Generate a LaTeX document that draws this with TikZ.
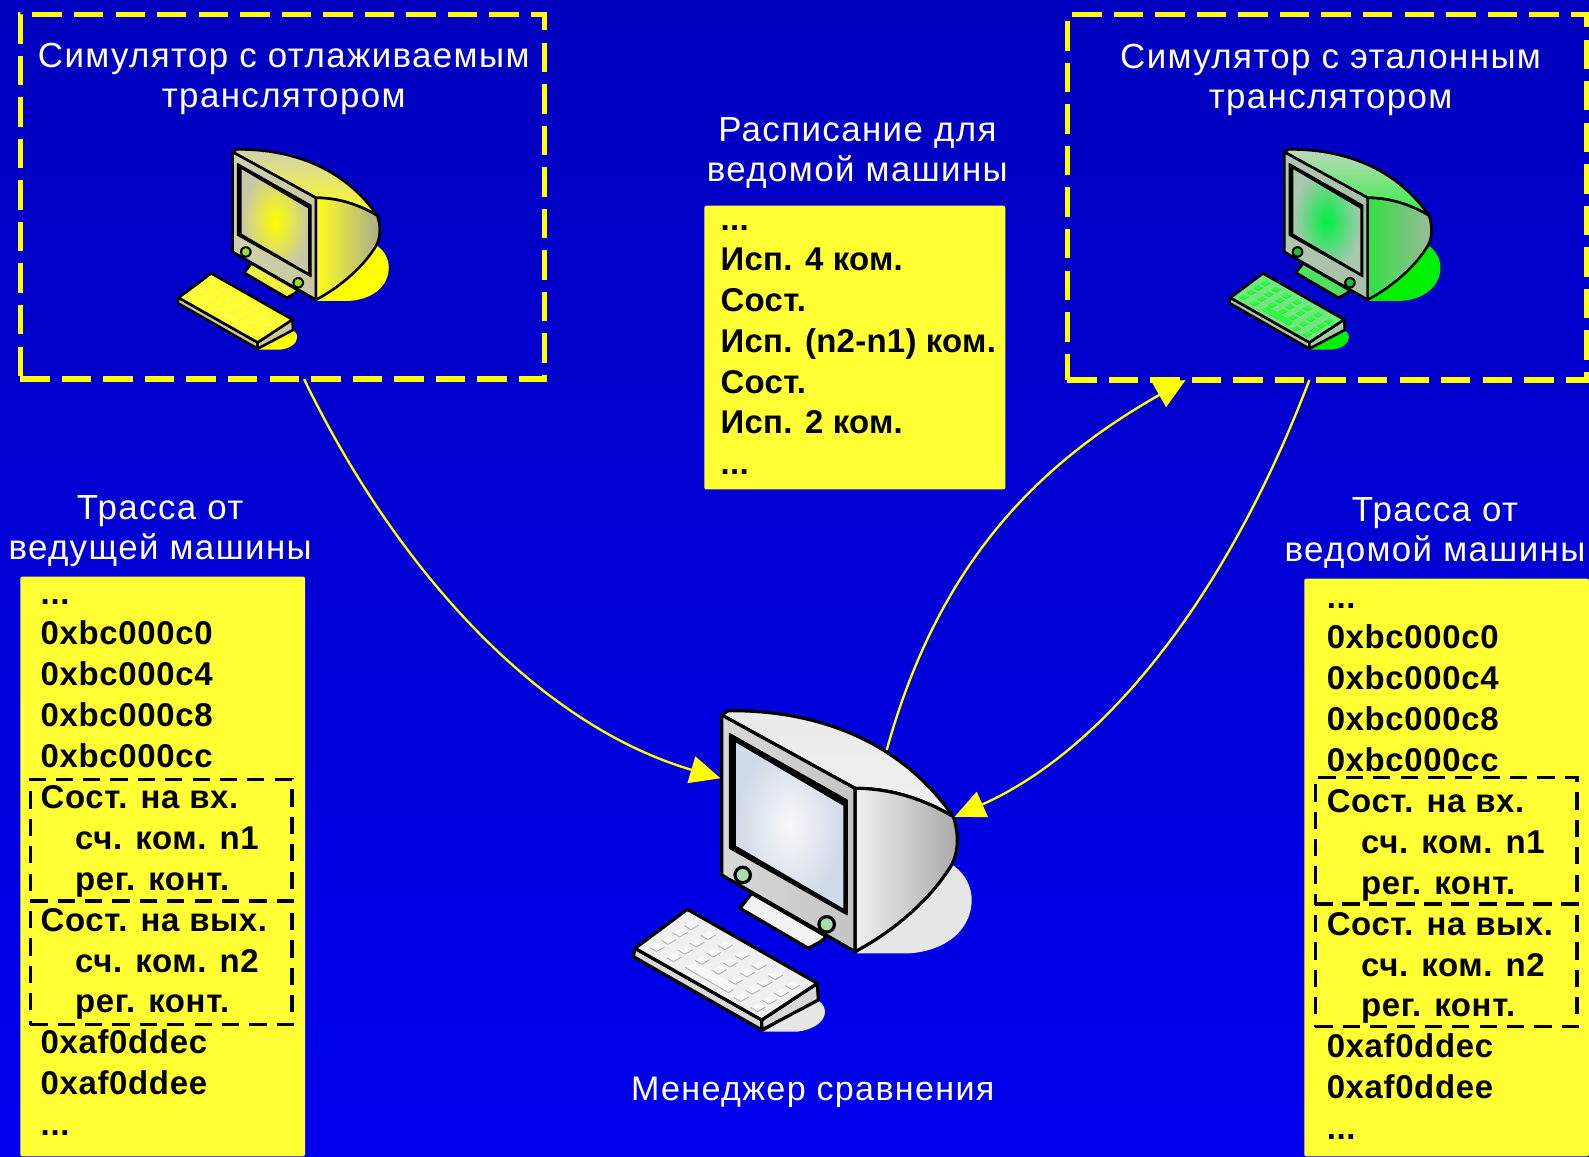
\documentclass[tikz,border=0pt]{standalone}
\usepackage{fontspec}
\setmainfont{Liberation Sans}
\usetikzlibrary{arrows.meta,calc}
\definecolor{boxyellow}{HTML}{FFFF33}
\definecolor{arrowyellow}{HTML}{FFFF00}
\newcommand{\drawcomputer}[3]{%
\begin{scope}[shift={(#1,#2)},scale=#3,line join=round]
 \def\lw{1.5pt+#3*5pt}
 \fill[cshadow] (770,820) -- (930,820) .. controls (1050,810) and (1115,740) .. (1115,660) .. controls (1115,610) and (1085,570) .. (1050,550) -- cycle;
 \fill[cshadow] (490,1055) -- (590,1055) .. controls (640,1050) and (675,1025) .. (675,995) .. controls (675,975) and (660,965) .. (650,960) -- cycle;
 \draw[line width=\lw,fill=cstand] (420,685) -- (455,640) -- (680,770) -- (662,785) -- (625,805) -- cycle;
 \draw[line width=\lw,top color=ctopa,bottom color=ctopb] (365,105) -- (385,92) .. controls (650,90) and (900,180) .. (1060,410) .. controls (950,345) and (850,325) .. (765,325) -- cycle;
 \draw[line width=\lw,left color=csidea,middle color=csideb,right color=csidec] (765,325) .. controls (850,325) and (950,345) .. (1060,410) .. controls (1080,470) and (1075,530) .. (1045,570) .. controls (980,670) and (870,760) .. (765,815) -- cycle;
 \draw[line width=\lw,left color=cfronta,right color=cfrontb] (365,105) -- (765,325) -- (765,815) -- (365,585) -- cycle;
 \filldraw[black,line width=1pt] (388,160) -- (742,360) -- (742,705) -- (388,505) -- cycle;
 \fill[inner color=cscreena,outer color=cscreenb] (408,188) -- (730,378) -- (730,685) -- (408,497) -- cycle;
 \fill[black] (428,585) circle (28);
 \fill[cbutton] (428,585) circle (18);
 \fill[black] (680,733) circle (28);
 \fill[cbutton] (680,733) circle (18);
 \draw[line width=\lw,fill=cside] (105,805) -- (485,1020) -- (485,1050) -- (100,830) -- cycle;
 \draw[line width=\lw,fill=cside] (485,1020) -- (652,910) -- (655,960) -- (485,1050) -- cycle;
 \draw[line width=\lw,fill=ckbd] (262,688) -- (652,910) -- (485,1020) -- (105,805) -- cycle;
 \foreach \i in {0,...,6}{\foreach \j in {0,...,3}{
   \pgfmathtruncatemacro{\skipk}{(\j==3 && \i>=2 && \i<=4) ? 1 : 0}
   \ifnum\skipk=0
   \begin{scope}[shift={(275+50.5*\i-34.5*\j,735+30*\i+22*\j)}]
     \fill[ckey] (0,-12) -- (22,0) -- (-2,14) -- (-22,2) -- cycle;
     \draw[ckeyline,line width=#3*3pt] (-22,2) -- (-2,14) -- (22,0);
   \end{scope}
   \fi
 }}
 \fill[ckey] (262,860) -- (285,848) -- (410,920) -- (385,935) -- cycle;
 \draw[ckeyline,line width=#3*3pt] (255,862) -- (385,938) -- (400,928);
\end{scope}}
\tikzset{
 dashfr/.style={draw=arrowyellow,line width=5pt,dash pattern=on 29pt off 12pt,minimum width=#1,inner sep=0pt,outer sep=0pt,anchor=north west},
 dashin/.style={draw=black,line width=3.5pt,dash pattern=on 17pt off 10pt,minimum width=258pt,inner sep=0pt,outer sep=0pt,anchor=north west},
 ybox/.style={fill=boxyellow,rounded corners=2pt,inner sep=0pt,outer sep=0pt,anchor=north west},
 title/.style={text=white,align=center,inner sep=0pt,font=\fontsize{34.4}{40}\selectfont\addfontfeature{LetterSpace=4}},
 block/.style={text=black,align=left,inner sep=0pt,anchor=north west,font=\fontsize{32.5}{40.35}\selectfont\bfseries\addfontfeature{LetterSpace=2}},
 conn/.style={draw=arrowyellow,line width=2.3pt,-{Triangle[length=30pt,width=27pt,fill=arrowyellow]}},
}
\begin{document}
\begin{tikzpicture}[x=1pt,y=-1pt]
\useasboundingbox (0,0) rectangle (1568,1141);
\fill[top color={rgb,255:red,0;green,0;blue,190},bottom color={rgb,255:red,0;green,0;blue,238}] (0,0) rectangle (1568,1141);

% computers
\begin{scope}
 \definecolor{cshadow}{HTML}{FFFF00}\definecolor{cstand}{HTML}{F0F040}
 \definecolor{ctopa}{HTML}{D0D0B0}\definecolor{ctopb}{HTML}{FFFF20}
 \definecolor{csidea}{HTML}{FFFF20}\definecolor{csideb}{HTML}{D8D860}\definecolor{csidec}{HTML}{A8A890}
 \definecolor{cfronta}{HTML}{D0D0B0}\definecolor{cfrontb}{HTML}{C8C8A0}
 \definecolor{cscreena}{HTML}{FFFF00}\definecolor{cscreenb}{HTML}{C8C8A8}
 \definecolor{cbutton}{HTML}{A0E020}\definecolor{cside}{HTML}{C8C8A0}
 \definecolor{ckbd}{HTML}{FFFF30}\definecolor{ckey}{HTML}{FFFF40}\definecolor{ckeyline}{HTML}{F0F060}
 \drawcomputer{154.7}{128.5}{0.2053}
\end{scope}
\begin{scope}
 \definecolor{cshadow}{HTML}{00F000}\definecolor{cstand}{HTML}{50E060}
 \definecolor{ctopa}{HTML}{C0D8C0}\definecolor{ctopb}{HTML}{30F040}
 \definecolor{csidea}{HTML}{30E040}\definecolor{csideb}{HTML}{60D870}\definecolor{csidec}{HTML}{A0B8A0}
 \definecolor{cfronta}{HTML}{B0C8B0}\definecolor{cfrontb}{HTML}{A8C0A8}
 \definecolor{cscreena}{HTML}{00F040}\definecolor{cscreenb}{HTML}{A8C8B0}
 \definecolor{cbutton}{HTML}{20C030}\definecolor{cside}{HTML}{A8C8A8}
 \definecolor{ckbd}{HTML}{70E880}\definecolor{ckey}{HTML}{30F840}\definecolor{ckeyline}{HTML}{30D840}
 \drawcomputer{1192.5}{128.5}{0.2053}
\end{scope}
\begin{scope}
 \definecolor{cshadow}{HTML}{E6E6E6}\definecolor{cstand}{HTML}{F2F2F2}
 \definecolor{ctopa}{HTML}{EAEAEA}\definecolor{ctopb}{HTML}{F0F0F0}
 \definecolor{csidea}{HTML}{F0F0F0}\definecolor{csideb}{HTML}{D0D0D0}\definecolor{csidec}{HTML}{A8A8A8}
 \definecolor{cfronta}{HTML}{D8D8D8}\definecolor{cfrontb}{HTML}{C4C4C4}
 \definecolor{cscreena}{HTML}{F8F8FA}\definecolor{cscreenb}{HTML}{D0DAE8}
 \definecolor{cbutton}{HTML}{A8DCA8}\definecolor{cside}{HTML}{D8D8D8}
 \definecolor{ckbd}{HTML}{F0F0F0}\definecolor{ckey}{HTML}{F8F8F8}\definecolor{ckeyline}{HTML}{B8B8B8}
 \drawcomputer{592.1}{671}{0.3289}
\end{scope}

% frames
\node[dashfr=517pt,minimum height=360pt] (simL) at (20,14) {};
\node[dashfr=513pt,minimum height=361pt] (simR) at (1053,14) {};

% yellow sheets
\node[ybox,minimum width=297pt,minimum height=280pt] (sched) at (695,203) {};
\node[ybox,minimum width=281pt,minimum height=572pt] (traceL) at (20,569) {};
\node[ybox,minimum width=281pt,minimum height=570pt] (traceR) at (1287,571) {};

% sheet text
\node[block,font=\fontsize{32.5}{40.2}\selectfont\bfseries\addfontfeature{LetterSpace=0.8}] (schedT) at (711,222) {...\\Исп. 4 ком.\\Сост.\\Исп. (n2-n1) ком.\\Сост.\\Исп. 2 ком.\\...};
\node[block] (traceLT) at (40,591) {...\\0xbc000c0\\0xbc000c4\\0xbc000c8\\0xbc000cc\\Сост. на вх.\\\hspace*{34pt}сч. ком. n1\\\hspace*{34pt}рег. конт.\\Сост. на вых.\\\hspace*{34pt}сч. ком. n2\\\hspace*{34pt}рег. конт.\\0xaf0ddec\\0xaf0ddee\\...};
\node[block] (traceRT) at (1309,595) {...\\0xbc000c0\\0xbc000c4\\0xbc000c8\\0xbc000cc\\Сост. на вх.\\\hspace*{34pt}сч. ком. n1\\\hspace*{34pt}рег. конт.\\Сост. на вых.\\\hspace*{34pt}сч. ком. n2\\\hspace*{34pt}рег. конт.\\0xaf0ddec\\0xaf0ddee\\...};

% inner dashed frames
\node[dashin,minimum height=120pt] (inL) at (30,769) {};
\node[dashin,minimum height=122pt] (outL) at (30,889) {};
\node[dashin,minimum height=125pt] (inR) at (1298,767) {};
\node[dashin,minimum height=121pt] (outR) at (1298,892) {};

% titles
\node[title] (tL) at (280,78) {Симулятор с отлаживаемым\\транслятором};
\node[title] (tR) at (1313,79) {Симулятор с эталонным\\транслятором};
\node[title] (tS) at (846,151) {Расписание для\\ведомой машины};
\node[title] (tTL) at (158,524) {Трасса от\\ведущей машины};
\node[title] (tTR) at (1416,526) {Трасса от\\ведомой машины};
\node[title,font=\fontsize{33.6}{40}\selectfont\addfontfeature{LetterSpace=4}] (tM) at (802,1078) {Менеджер сравнения};

% connectors
\coordinate (bigL) at (711,768);
\coordinate (bigT) at (875,740);
\coordinate (bigR) at (942,806);
\draw[conn] ($(simL.south west)!0.5416!(simL.south east)$) .. controls (390,560) and (530,715) .. (bigL);
\draw[conn] (bigT) .. controls (925,560) and (1020,460) .. ($(simR.south west)!0.228!(simR.south east)$);
\draw[conn] ($(simR.south west)!0.466!(simR.south east)$) .. controls (1210,590) and (1090,740) .. (bigR);
\end{tikzpicture}
\end{document}
